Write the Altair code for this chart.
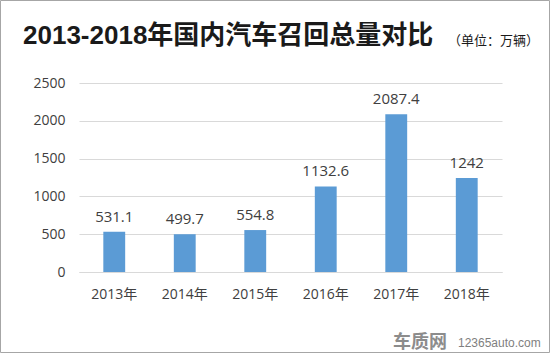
import altair as alt
import pandas as pd

years = ["2013年", "2014年", "2015年", "2016年", "2017年", "2018年"]
values = [531.1, 499.7, 554.8, 1132.6, 2087.4, 1242]
value_labels = ["531.1", "499.7", "554.8", "1132.6", "2087.4", "1242"]
y_ticks = [0, 500, 1000, 1500, 2000, 2500]
title_main = "2013-2018年国内汽车召回总量对比"
title_unit = "（单位：万辆）"
brand = "车质网"
site = "12365auto.com"

df = pd.DataFrame({"year": years, "value": values, "label": value_labels})

FONT = "Open Sans, Noto Sans CJK SC, sans-serif"
TXT = "#404040"

x_enc = alt.X("year:N", sort=years, title=None,
              scale=alt.Scale(paddingInner=0.69, paddingOuter=0.345),
              axis=alt.Axis(labelAngle=0, ticks=False, domainColor="#D9D9D9",
                            labelFont=FONT, labelFontSize=14, labelColor=TXT,
                            labelPadding=15, grid=False))
y_enc = alt.Y("value:Q", title=None,
              scale=alt.Scale(domain=[0, 2500], nice=False),
              axis=alt.Axis(values=y_ticks, format="d", labelOverlap=False,
                            ticks=False, domain=False,
                            gridColor="#D9D9D9", labelFont=FONT, labelFontSize=14,
                            labelColor=TXT, labelPadding=14))

base = alt.Chart(df)
bars = base.mark_bar(color="#5B9BD5").encode(x=x_enc, y=y_enc)
labels = base.mark_text(baseline="bottom", dy=-7, font=FONT, fontSize=15,
                        color=TXT).encode(x=x_enc, y=y_enc, text="label:N")

t1 = alt.Chart(pd.DataFrame({"t": [title_main]})).mark_text(
    align="left", baseline="alphabetic", font="Liberation Sans, Noto Sans CJK SC",
    fontWeight="bold", fontSize=26, color="#1a1a1a").encode(
    x=alt.value(-56), y=alt.value(-39), text="t:N")
t2 = alt.Chart(pd.DataFrame({"t": [title_unit]})).mark_text(
    align="left", baseline="alphabetic", font="Noto Sans CJK SC",
    fontSize=13, color="#1a1a1a").encode(
    x=alt.value(369), y=alt.value(-38), text="t:N")
w1 = alt.Chart(pd.DataFrame({"t": [brand]})).mark_text(
    align="left", baseline="alphabetic", font="Noto Sans CJK SC",
    fontWeight="bold", fontSize=18, color="#8c8c8c").encode(
    x=alt.value(314), y=alt.value(265), text="t:N")
w2 = alt.Chart(pd.DataFrame({"t": [site]})).mark_text(
    align="left", baseline="alphabetic", font="Liberation Sans",
    fontSize=12, color="#7f7f7f").encode(
    x=alt.value(379), y=alt.value(264), text="t:N")
border = alt.Chart(pd.DataFrame({"t": [0]})).mark_rect(
    fillOpacity=0, stroke="#A6A6A6", strokeWidth=1).encode(
    x=alt.value(-78.5), x2=alt.value(470.5), y=alt.value(-82.5), y2=alt.value(269.5))

chart = alt.layer(bars, labels, t1, t2, w1, w2, border).properties(
    width=423, height=189,
    autosize=alt.AutoSizeParams(type="none"),
    padding={"left": 79, "top": 83, "right": 48, "bottom": 81},
    background="white",
).configure_view(stroke=None)

chart.save("out.html", embed_options={"renderer": "svg", "actions": False})
